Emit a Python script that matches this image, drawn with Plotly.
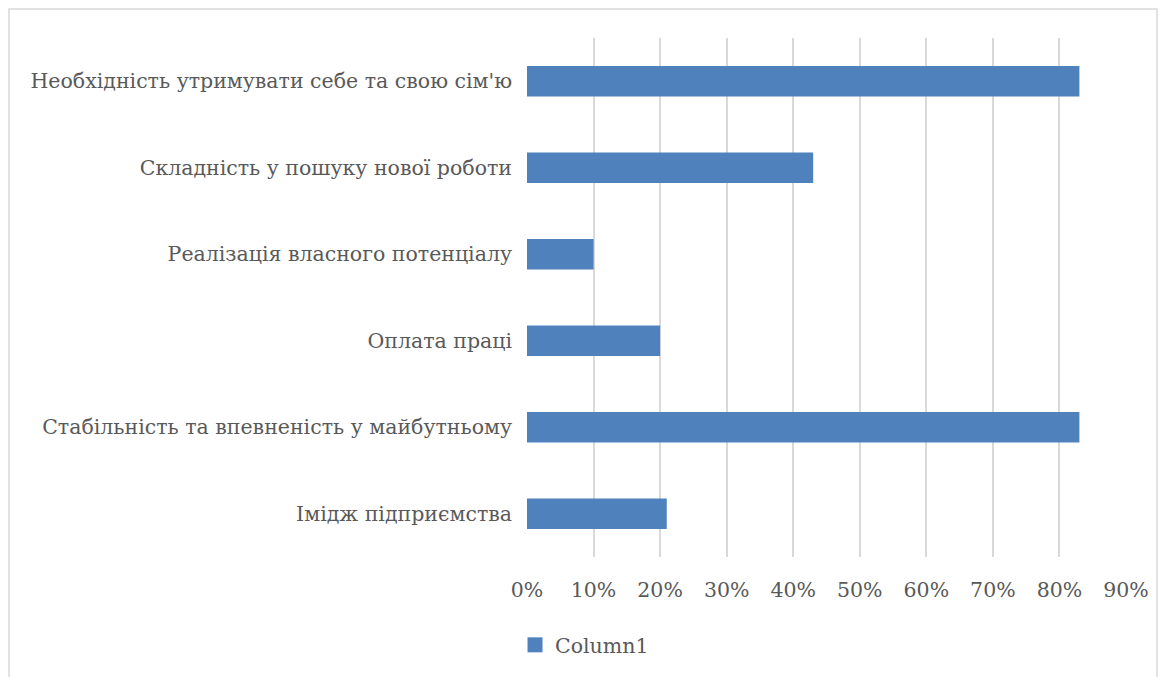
import plotly.graph_objects as go

# Survey answers, listed bottom-to-top as they appear on the y axis
categories = [
    "Імідж підприємства",
    "Стабільність та впевненість у майбутньому",
    "Оплата праці",
    "Реалізація власного потенціалу",
    "Складність у пошуку нової роботи",
    "Необхідність утримувати себе та свою сім'ю",
]
shares = [0.21, 0.83, 0.20, 0.10, 0.43, 0.83]
tick_values = [0, 0.1, 0.2, 0.3, 0.4, 0.5, 0.6, 0.7, 0.8, 0.9]
tick_labels = ["0%", "10%", "20%", "30%", "40%", "50%", "60%", "70%", "80%", "90%"]

W, H = 1168, 677
ML, MR, MT, MB = 527, 42, 38, 120
pw, ph = W - ML - MR, H - MT - MB

font_family = "DejaVu Serif, Liberation Serif, serif"
font_size = 20.5
text_color = "#595959"
bar_color = "#4f81bd"

fig = go.Figure()
fig.add_trace(
    go.Bar(
        x=shares,
        y=categories,
        orientation="h",
        name="Column1",
        marker=dict(color=bar_color, line=dict(width=0)),
        showlegend=False,
    )
)
# legend entry with a larger square swatch
fig.add_trace(
    go.Scatter(
        x=[None],
        y=[None],
        mode="markers",
        name="Column1",
        marker=dict(symbol="square", size=15, color=bar_color),
        showlegend=True,
    )
)

# outer chart frame, converted from pixels to paper coordinates
fig.add_shape(
    type="rect",
    xref="paper", yref="paper",
    x0=(9 - ML) / pw, x1=(1157 - ML) / pw,
    y0=-(MB + 10) / ph, y1=1 + (MT - 9) / ph,
    line=dict(color="#d9d9d9", width=1.5),
    fillcolor="rgba(0,0,0,0)",
    layer="below",
)

fig.update_layout(
    width=W,
    height=H,
    margin=dict(l=ML, r=MR, t=MT, b=MB),
    paper_bgcolor="white",
    plot_bgcolor="white",
    bargap=0.65,
    font=dict(family=font_family, size=font_size, color=text_color),
    showlegend=True,
    legend=dict(
        orientation="h",
        x=-0.02,
        xanchor="left",
        y=-(645 - (MT + ph)) / ph,
        yanchor="middle",
        font=dict(family=font_family, size=font_size, color=text_color),
        itemwidth=30,
    ),
    xaxis=dict(
        range=[0, 0.9],
        tickvals=tick_values,
        ticktext=tick_labels,
        showgrid=True,
        gridcolor="#d9d9d9",
        gridwidth=1.5,
        zeroline=False,
        showline=False,
        ticks="",
        ticklabelstandoff=18,
        tickfont=dict(size=font_size),
    ),
    yaxis=dict(
        showgrid=False,
        zeroline=False,
        showline=False,
        ticks="",
        ticklabelstandoff=14,
        tickfont=dict(size=font_size),
    ),
)

fig.write_html("out.html")
